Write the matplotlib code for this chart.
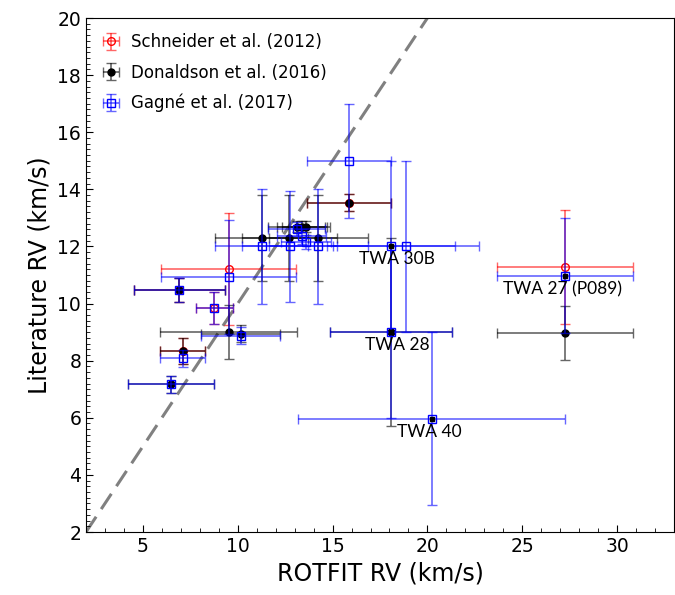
import numpy as np
import matplotlib
matplotlib.use("Agg")
import matplotlib.pyplot as plt
from matplotlib.ticker import MultipleLocator

# Schneider et al. (2012)
sch_x = [6.92, 7.10, 8.76, 9.52, 15.87, 27.25]
sch_xerr = [2.39, 1.19, 0.98, 3.57, 2.20, 3.60]
sch_y = [10.48, 8.34, 9.84, 11.20, 13.53, 11.27]
sch_yerr = [0.42, 0.44, 0.56, 1.96, 0.30, 2.00]

# Donaldson et al. (2016)
don_x = [6.48, 6.92, 7.10, 9.52, 10.15, 11.26, 12.72, 14.25, 13.10, 13.37, 13.60, 15.87, 18.08, 27.25]
don_xerr = [2.28, 2.39, 1.19, 3.60, 2.10, 2.46, 2.50, 2.60, 1.50, 1.32, 1.28, 2.20, 3.20, 3.60]
don_y = [7.18, 10.48, 8.34, 9.00, 8.95, 12.30, 12.30, 12.30, 12.69, 12.69, 12.69, 13.53, 9.00, 8.98]
don_yerr = [0.30, 0.42, 0.44, 0.95, 0.30, 1.50, 1.50, 1.50, 0.20, 0.20, 0.20, 0.30, 3.30, 0.94]

# Gagne et al. (2017)
gag_x = [6.48, 6.92, 7.10, 8.76, 9.52, 10.15, 11.26, 12.74, 14.25, 13.10, 13.37, 13.60,
         15.87, 18.08, 18.87, 18.08, 20.22, 27.25]
gag_xerr = [2.28, 2.39, 1.20, 0.98, 3.57, 2.10, 2.46, 2.50, 2.60, 1.50, 1.30, 1.30,
            2.20, 3.40, 3.85, 3.20, 7.05, 3.60]
gag_y = [7.18, 10.48, 8.08, 9.84, 10.94, 8.88, 12.00, 12.00, 12.00, 12.60, 12.35, 12.15,
         15.00, 12.00, 12.00, 9.00, 5.96, 10.98]
gag_yerr = [0.30, 0.42, 0.30, 0.56, 2.00, 0.30, 2.00, 1.95, 2.00, 0.25, 0.25, 0.25,
            2.00, 3.00, 3.00, 3.00, 3.03, 2.00]

# labelled stars
lab_names = ["TWA 30B", "TWA 28", "TWA 40", "TWA 27 (P089)"]
lab_x = [18.08, 18.08, 20.22, 27.25]
lab_y = [12.00, 9.00, 5.96, 10.98]
lab_tx = [18.4, 18.4, 20.1, 27.1]
lab_ty = [11.56, 8.55, 5.5, 10.48]

fig = plt.figure(figsize=(6.75, 5.95), dpi=100)
ax = fig.add_axes([86 / 675, 63 / 595, 588 / 675, 514 / 595])

ax.axline((0, 0), (1, 1), ls=(0, (6, 3)), color="gray", lw=2.2, zorder=1)

ax.errorbar(sch_x, sch_y, xerr=sch_xerr, yerr=sch_yerr, fmt="o", mfc="none", mec="red",
            ms=5.5, mew=1, ecolor=(1, 0, 0, 0.6), elinewidth=1.2, capsize=3.5,
            label="Schneider et al. (2012)", zorder=2)
ax.errorbar(don_x, don_y, xerr=don_xerr, yerr=don_yerr, fmt="o", color="black",
            ms=5, ecolor=(0, 0, 0, 0.6), elinewidth=1.2, capsize=3.5,
            label="Donaldson et al. (2016)", zorder=3)
ax.errorbar(gag_x, gag_y, xerr=gag_xerr, yerr=gag_yerr, fmt="s", mfc="none", mec="blue",
            ms=6, mew=1, ecolor=(0, 0, 1, 0.6), elinewidth=1.2, capsize=3.5,
            label="Gagné et al. (2017)", zorder=4)

ax.plot(lab_x, lab_y, "ks", ms=2.5, zorder=5)
for name, tx, ty in zip(lab_names, lab_tx, lab_ty):
    ax.text(tx, ty, name, ha="center", va="center", fontsize=12.5, family="Lato", zorder=6)

ax.set_xlim(2, 33)
ax.set_ylim(2, 20)
ax.xaxis.set_major_locator(MultipleLocator(5))
ax.xaxis.set_minor_locator(MultipleLocator(1))
ax.yaxis.set_major_locator(MultipleLocator(2))
ax.yaxis.set_minor_locator(MultipleLocator(0.2))
ax.tick_params(which="both", direction="in", labelsize=13.5)
ax.tick_params(which="major", length=5)
ax.tick_params(which="minor", length=3)

ax.set_xlabel("ROTFIT RV (km/s)", fontsize=17)
ax.set_ylabel("Literature RV (km/s)", fontsize=17)

ax.legend(loc="upper left", frameon=False, fontsize=12, handlelength=1.2,
          handletextpad=0.6, labelspacing=0.75, borderaxespad=0.5)

fig.savefig("out.png", dpi=100)
